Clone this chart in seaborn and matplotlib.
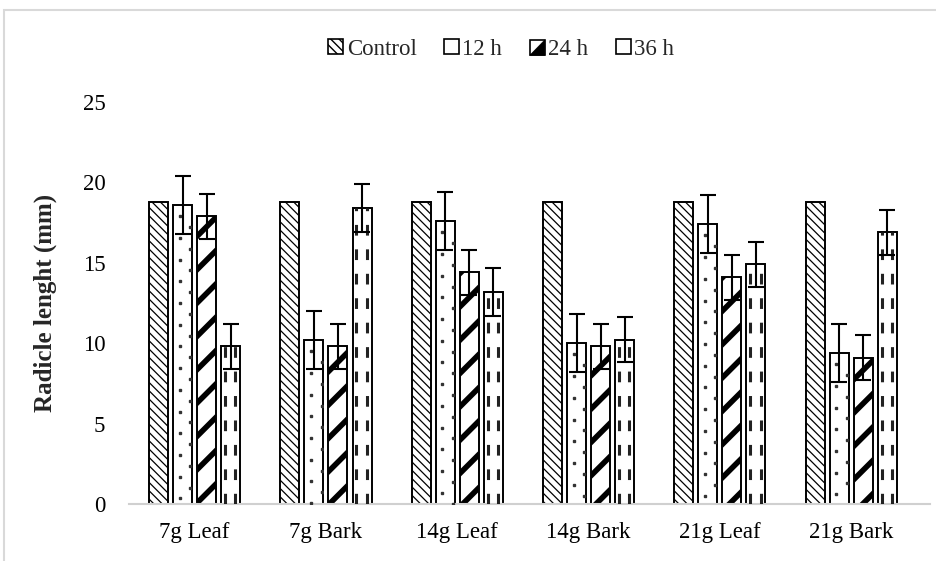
import matplotlib
matplotlib.use("Agg")
import matplotlib.pyplot as plt
import seaborn as sns
import pandas as pd
import numpy as np
from matplotlib.patches import Patch, Rectangle, Polygon
from matplotlib.legend_handler import HandlerBase

categories = ["7g Leaf", "7g Bark", "14g Leaf", "14g Bark", "21g Leaf", "21g Bark"]
series = ["Control", "12 h", "24 h", "36 h"]
control = [18.8, 18.8, 18.8, 18.8, 18.8, 18.8]
h12 = [18.6, 10.2, 17.6, 10.0, 17.4, 9.4]
h24 = [17.9, 9.8, 14.4, 9.8, 14.1, 9.1]
h36 = [9.8, 18.4, 13.2, 10.2, 14.9, 16.9]
err12 = [1.8, 1.8, 1.8, 1.8, 1.8, 1.8]
err24 = [1.4, 1.4, 1.4, 1.4, 1.4, 1.4]
err36 = [1.4, 1.5, 1.5, 1.4, 1.4, 1.4]
yticks = [0, 5, 10, 15, 20, 25]

values = [control, h12, h24, h36]
errors = [None, err12, err24, err36]

rows = []
for s, vals in zip(series, values):
    for c, v in zip(categories, vals):
        rows.append({"cat": c, "series": s, "val": v})
df = pd.DataFrame(rows)

sns.set_theme(style="white")
plt.rcParams["font.family"] = ["Liberation Serif", "DejaVu Serif"]

W, H = 937, 561
fig = plt.figure(figsize=(W / 100, H / 100), dpi=100)
ax = fig.add_axes([129 / W, (H - 504) / H, (930 - 129) / W, (504 - 102) / H])

sns.barplot(data=df, x="cat", y="val", hue="series", order=categories,
            hue_order=series, palette=["white"] * 4, width=0.732, gap=0.21,
            errorbar=None, edgecolor="black", linewidth=1.4, ax=ax, legend=False)

hatches = ["\\\\\\\\", "", "/", ""]
for cont, h in zip(ax.containers, hatches):
    for p in cont:
        p.set_hatch(h)
        if hasattr(p, "set_hatch_linewidth"):
            p.set_hatch_linewidth(4.0 if h == "/" else 0.9)

# dotted fill for 12 h, dashed vertical fill for 36 h
for idx, cont in enumerate(ax.containers):
    for p in cont:
        x0, w, hgt = p.get_x(), p.get_width(), p.get_height()
        if idx == 1:
            for frac, off in [(0.35, 0.0), (0.9, 0.5)]:
                ys = np.arange(hgt - 0.7 - off * 1.35, 0, -1.35)
                ln, = ax.plot(np.full_like(ys, x0 + w * frac), ys, ls="none", marker="s",
                              ms=1.8, color="#333333", zorder=3)
                ln.set_clip_path(p)
        if idx == 3:
            for frac, off in [(0.2, 0.0), (0.74, 0.6)]:
                ln, = ax.plot([x0 + w * frac] * 2, [0, hgt], color="#222222", lw=2.2,
                              dashes=(3.5, 4.5), dash_capstyle="butt", zorder=3)
                ln.set_clip_path(p)

for cont, e in zip(ax.containers, errors):
    if e is None:
        continue
    xs = [p.get_x() + p.get_width() / 2 for p in cont]
    ys = [p.get_height() for p in cont]
    ax.errorbar(xs, ys, yerr=e, fmt="none", ecolor="black", elinewidth=1.5,
                capsize=6, capthick=1.5, zorder=4)

ax.set_ylim(0, 25)
ax.set_xlim(-0.5, len(categories) - 0.4)
ax.set_yticks(yticks)
ax.set_yticklabels([str(t) for t in yticks])
ax.tick_params(axis="both", length=0, labelsize=16.5, colors="black")
ax.tick_params(axis="y", pad=17)
ax.tick_params(axis="x", pad=13)
ax.set_xlabel("")
ax.set_ylabel("Radicle lenght (mm)", fontsize=18, fontweight="bold")
ax.yaxis.set_label_coords((57 - 129) / (930 - 129), 0.5)
for side in ["top", "right", "left"]:
    ax.spines[side].set_visible(False)
ax.spines["bottom"].set_color("#d0d0d0")
ax.spines["bottom"].set_linewidth(1.5)
ax.grid(False)


class HalfHandler(HandlerBase):
    def create_artists(self, legend, orig, xd, yd, width, height, fontsize, trans):
        sq = Rectangle((xd, yd), width, height, facecolor="white", edgecolor="black",
                       lw=1.2, transform=trans)
        tri = Polygon([(xd + width, yd), (xd + width, yd + height), (xd, yd)],
                      closed=True, facecolor="black", edgecolor="black", lw=0.5,
                      transform=trans)
        return [sq, tri]


handles = [Patch(facecolor="white", edgecolor="black", hatch="\\\\\\\\", lw=1.2),
           Patch(facecolor="white", edgecolor="black", lw=1.2),
           Patch(facecolor="white", edgecolor="black", lw=1.2),
           Patch(facecolor="white", edgecolor="black", lw=1.2)]
fig.legend(handles, series, loc="center", bbox_to_anchor=(0.535, 0.912), ncol=4,
           frameon=False, fontsize=16.5, handlelength=0.65, handleheight=0.65,
           handletextpad=0.15, columnspacing=1.2,
           handler_map={handles[2]: HalfHandler()})

fig.patches.append(Rectangle((4 / W, -0.1), 1.2, (H - 10) / H + 0.1,
                             transform=fig.transFigure, fill=False,
                             edgecolor="#d9d9d9", lw=1.5))

fig.savefig("out.png", dpi=100)
